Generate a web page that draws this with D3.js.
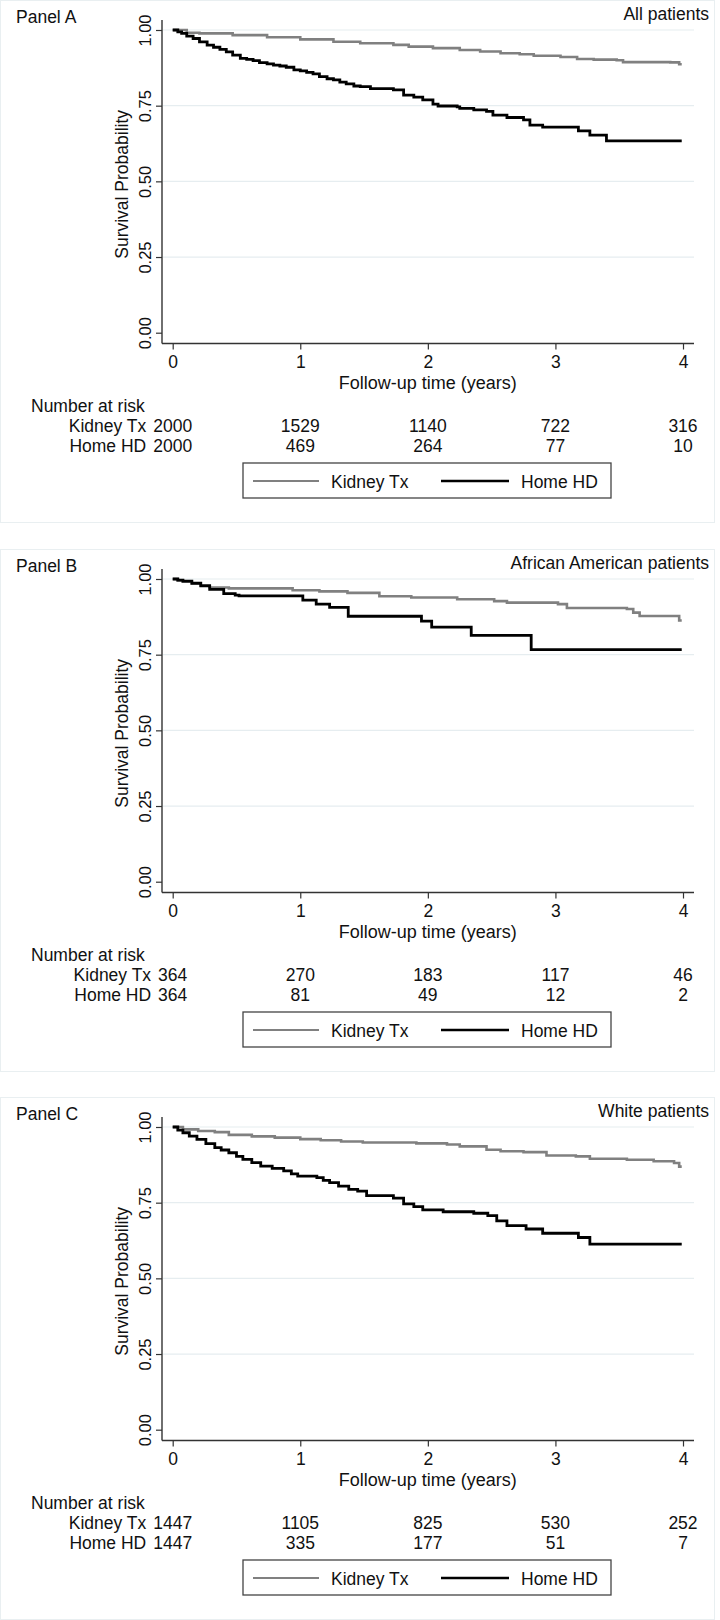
<!DOCTYPE html>
<html><head><meta charset="utf-8">
<script src="https://cdn.jsdelivr.net/npm/d3@7"></script>
<style>
body{margin:0;background:#fff;}
svg{display:block;font-family:"Liberation Sans",Arial,Helvetica,sans-serif;}
</style>
</head><body><svg id="chart" width="720" height="1620"></svg>
<script>
// ---------------- data ----------------
const panelNames = ["Panel A", "Panel B", "Panel C"];
const panelSubtitles = ["All patients", "African American patients", "White patients"];
const groupNames = ["Kidney Tx", "Home HD"];
const xTickValues = [0, 1, 2, 3, 4];
const yTickValues = [0, 0.25, 0.5, 0.75, 1];
const yTickLabels = ["0.00", "0.25", "0.50", "0.75", "1.00"];
const xAxisTitle = "Follow-up time (years)";
const yAxisTitle = "Survival Probability";
const riskTitle = "Number at risk";

const riskA_kidney = [2000, 1529, 1140, 722, 316];
const riskA_home   = [2000, 469, 264, 77, 10];
const riskB_kidney = [364, 270, 183, 117, 46];
const riskB_home   = [364, 81, 49, 12, 2];
const riskC_kidney = [1447, 1105, 825, 530, 252];
const riskC_home   = [1447, 335, 177, 51, 7];

// Kaplan-Meier steps: [time (years), survival after that time]
const kmA_kidney = [[0,1],[0.11,0.991],[0.21,0.989],[0.47,0.983],[0.74,0.976],[1.0,0.969],[1.26,0.961],[1.47,0.956],
  [1.73,0.951],[1.85,0.945],[2.04,0.940],[2.25,0.934],[2.41,0.929],[2.57,0.923],[2.72,0.920],[2.83,0.915],
  [3.04,0.911],[3.17,0.904],[3.30,0.902],[3.48,0.900],[3.53,0.894],[3.90,0.893],[3.97,0.887],[3.99,0.887]];
const kmA_home = [[0,1],[0.04,0.994],[0.07,0.989],[0.11,0.980],[0.16,0.972],[0.21,0.961],[0.27,0.950],[0.32,0.943],
  [0.37,0.936],[0.42,0.928],[0.47,0.917],[0.53,0.906],[0.58,0.903],[0.63,0.899],[0.68,0.892],[0.74,0.888],
  [0.79,0.884],[0.84,0.881],[0.89,0.877],[0.95,0.868],[1.0,0.865],[1.05,0.860],[1.10,0.855],[1.15,0.846],
  [1.21,0.839],[1.26,0.835],[1.31,0.828],[1.36,0.822],[1.42,0.815],[1.47,0.813],[1.55,0.806],[1.73,0.802],
  [1.81,0.785],[1.89,0.778],[1.96,0.769],[2.04,0.755],[2.08,0.749],[2.23,0.746],[2.25,0.741],[2.36,0.736],
  [2.46,0.731],[2.51,0.719],[2.62,0.711],[2.75,0.703],[2.80,0.686],[2.90,0.679],[3.18,0.667],[3.27,0.653],
  [3.40,0.634],[3.99,0.634]];
const kmB_kidney = [[0,1],[0.04,0.995],[0.08,0.991],[0.15,0.986],[0.22,0.979],[0.29,0.972],[0.44,0.969],
  [0.94,0.963],[1.15,0.959],[1.37,0.954],[1.62,0.943],[1.87,0.939],[2.23,0.933],[2.52,0.927],[2.62,0.922],
  [3.02,0.917],[3.09,0.904],[3.56,0.901],[3.61,0.889],[3.66,0.878],[3.97,0.863],[3.99,0.863]];
const kmB_home = [[0,1],[0.04,0.996],[0.08,0.993],[0.15,0.986],[0.22,0.977],[0.29,0.966],[0.40,0.952],
  [0.49,0.947],[0.52,0.944],[1.02,0.930],[1.125,0.917],[1.23,0.906],[1.376,0.877],[1.95,0.861],[2.03,0.841],
  [2.34,0.814],[2.81,0.767],[3.99,0.767]];
const kmC_kidney = [[0,1],[0.08,0.992],[0.20,0.987],[0.33,0.983],[0.44,0.974],[0.62,0.969],[0.80,0.965],
  [1.0,0.960],[1.16,0.956],[1.32,0.952],[1.49,0.949],[1.91,0.946],[2.15,0.942],[2.25,0.936],[2.46,0.925],
  [2.57,0.920],[2.75,0.917],[2.93,0.906],[3.16,0.903],[3.27,0.895],[3.56,0.892],[3.77,0.887],[3.93,0.881],
  [3.97,0.869],[3.99,0.869]];
const kmC_home = [[0,1],[0.04,0.990],[0.08,0.981],[0.13,0.970],[0.19,0.959],[0.26,0.945],[0.33,0.932],
  [0.38,0.924],[0.44,0.915],[0.50,0.903],[0.55,0.893],[0.62,0.882],[0.69,0.871],[0.78,0.863],[0.87,0.855],
  [0.93,0.845],[0.98,0.838],[1.13,0.833],[1.18,0.824],[1.23,0.816],[1.30,0.805],[1.38,0.794],[1.45,0.788],
  [1.52,0.773],[1.73,0.765],[1.81,0.746],[1.89,0.737],[1.96,0.726],[2.12,0.720],[2.36,0.715],[2.47,0.707],
  [2.54,0.690],[2.62,0.674],[2.77,0.663],[2.90,0.649],[3.18,0.635],[3.27,0.613],[3.99,0.613]];

const panels = [
  {kidney: kmA_kidney, home: kmA_home, riskK: riskA_kidney, riskH: riskA_home},
  {kidney: kmB_kidney, home: kmB_home, riskK: riskB_kidney, riskH: riskB_home},
  {kidney: kmC_kidney, home: kmC_home, riskK: riskC_kidney, riskH: riskC_home}
];

// ---------------- drawing ----------------
const svg = d3.select("#chart");
const panelTops = [0, 549, 1097];
const grayCol = "#808080", axisCol = "#333", gridCol = "#e6edf0", textCol = "#111";

panels.forEach((p, i) => {
  const oy = panelTops[i];
  const g = svg.append("g").attr("transform", `translate(0,${oy})`);

  // faint panel frame
  g.append("rect").attr("x", 0.5).attr("y", 0.5).attr("width", 714).attr("height", 522)
    .attr("fill", "none").attr("stroke", "#e9eff1").attr("stroke-width", 1);

  const x = d3.scaleLinear().domain([0, 4]).range([172.7, 683]);
  const y = d3.scaleLinear().domain([0, 1]).range([332.7, 30]);
  const plotL = 162, plotR = 694, plotT = 20, plotB = 343.5;

  // titles
  g.append("text").attr("x", 16).attr("y", 23).attr("font-size", 17.5).attr("fill", textCol).text(panelNames[i]);
  g.append("text").attr("x", 709).attr("y", 20).attr("text-anchor", "end").attr("font-size", 17.5)
    .attr("fill", textCol).text(panelSubtitles[i]);

  // gridlines
  g.append("g").selectAll("line").data(yTickValues.filter(v => v > 0)).join("line")
    .attr("x1", plotL + 1).attr("x2", plotR).attr("y1", d => y(d)).attr("y2", d => y(d))
    .attr("stroke", gridCol).attr("stroke-width", 1.2);

  // y axis
  const yAxis = g.append("g").attr("transform", `translate(${plotL},0)`)
    .call(d3.axisLeft(y).tickValues(yTickValues).tickSize(6).tickFormat((d, k) => yTickLabels[k]));
  yAxis.select(".domain").remove();
  yAxis.selectAll(".tick line").attr("stroke", axisCol).attr("stroke-width", 1.2);
  yAxis.selectAll(".tick text").attr("x", null).attr("dy", "0.35em").attr("text-anchor", "middle")
    .attr("transform", "translate(-16.5,0) rotate(-90)").attr("font-size", 16.5).attr("fill", textCol)
    .attr("font-family", null);
  g.append("line").attr("x1", plotL).attr("x2", plotL).attr("y1", plotT).attr("y2", plotB)
    .attr("stroke", axisCol).attr("stroke-width", 1.4);

  // x axis
  const xAxis = g.append("g").attr("transform", `translate(0,${plotB})`)
    .call(d3.axisBottom(x).tickValues(xTickValues).tickSize(6).tickPadding(6).tickFormat(d3.format("d")));
  xAxis.select(".domain").remove();
  xAxis.selectAll(".tick line").attr("stroke", axisCol).attr("stroke-width", 1.2);
  xAxis.selectAll(".tick text").attr("font-size", 17.5).attr("fill", textCol).attr("font-family", null);
  g.append("line").attr("x1", plotL).attr("x2", plotR).attr("y1", plotB).attr("y2", plotB)
    .attr("stroke", axisCol).attr("stroke-width", 1.4);

  // axis titles
  g.append("text").attr("transform", `translate(122,${(y(0) + y(1)) / 2 + 3}) rotate(-90)`)
    .attr("text-anchor", "middle").attr("dy", "0.35em").attr("font-size", 17.5).attr("fill", textCol)
    .text(yAxisTitle);
  g.append("text").attr("x", (x(0) + x(4)) / 2).attr("y", 389).attr("text-anchor", "middle")
    .attr("font-size", 18).attr("fill", textCol).text(xAxisTitle);

  // curves
  const line = d3.line().x(d => x(d[0])).y(d => y(d[1])).curve(d3.curveStepAfter);
  g.append("path").datum(p.kidney).attr("d", line).attr("fill", "none")
    .attr("stroke", grayCol).attr("stroke-width", 2.6);
  g.append("path").datum(p.home).attr("d", line).attr("fill", "none")
    .attr("stroke", "#000").attr("stroke-width", 2.8);

  // number at risk table
  g.append("text").attr("x", 31).attr("y", 411.5).attr("font-size", 17.5).attr("fill", textCol).text(riskTitle);
  const rows = [{name: groupNames[0], vals: p.riskK, yy: 432}, {name: groupNames[1], vals: p.riskH, yy: 452}];
  rows.forEach(r => {
    const nums = g.append("g").selectAll("text").data(r.vals).join("text")
      .attr("x", (d, k) => x(xTickValues[k])).attr("y", r.yy).attr("text-anchor", "middle")
      .attr("font-size", 17.5).attr("fill", textCol).text(d => d);
    const firstW = nums.nodes()[0].getComputedTextLength();
    g.append("text").attr("x", x(0) - firstW / 2 - 7).attr("y", r.yy).attr("text-anchor", "end")
      .attr("font-size", 17.5).attr("fill", textCol).text(r.name);
  });

  // legend
  const lg = g.append("g");
  lg.append("rect").attr("x", 243).attr("y", 463).attr("width", 368).attr("height", 35)
    .attr("fill", "#fff").attr("stroke", "#444").attr("stroke-width", 1.3);
  lg.append("line").attr("x1", 253).attr("x2", 319).attr("y1", 481).attr("y2", 481)
    .attr("stroke", grayCol).attr("stroke-width", 2.2);
  lg.append("text").attr("x", 331).attr("y", 487.5).attr("font-size", 17.5).attr("fill", textCol).text(groupNames[0]);
  lg.append("line").attr("x1", 441).attr("x2", 509).attr("y1", 481).attr("y2", 481)
    .attr("stroke", "#000").attr("stroke-width", 2.6);
  lg.append("text").attr("x", 521).attr("y", 487.5).attr("font-size", 17.5).attr("fill", textCol).text(groupNames[1]);
});
</script>
</body></html>
